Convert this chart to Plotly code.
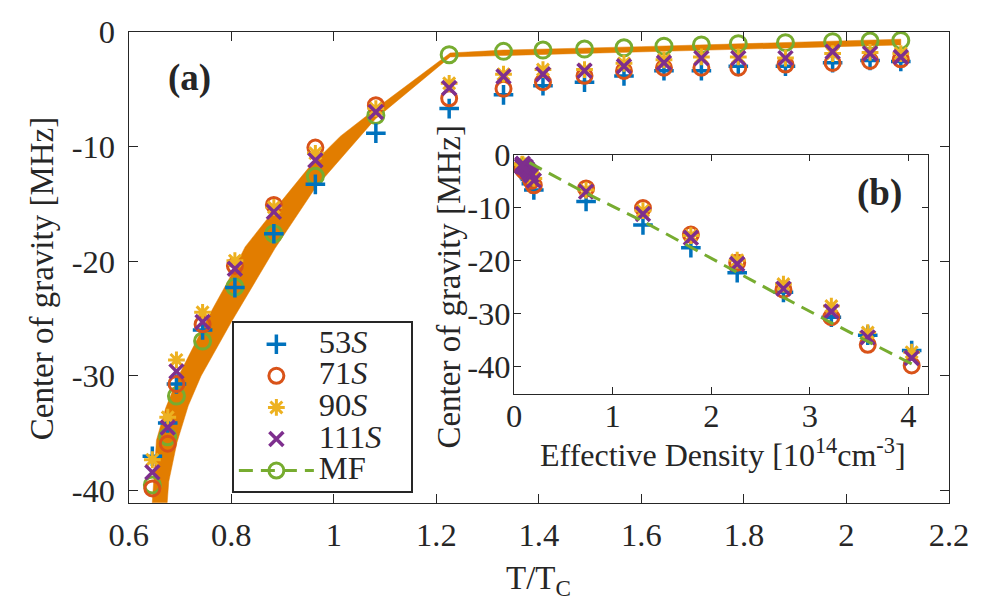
import plotly.graph_objects as go

# ---------------- data ----------------
T = [0.646, 0.676, 0.693, 0.744, 0.807, 0.883, 0.964, 1.082, 1.225, 1.331,
     1.408, 1.489, 1.566, 1.644, 1.717, 1.789, 1.881, 1.973, 2.046, 2.106]
density = [4.033, 3.587, 3.218, 2.732, 2.263, 1.793, 1.307, 0.73, 0.20, 0.175,
           0.164, 0.154, 0.143, 0.129, 0.118, 0.106, 0.097, 0.089, 0.083, 0.078]

s53 = [-37.0, -34.1, -30.7, -26.0, -22.3, -17.6, -13.3, -8.85, -6.7, -5.5,
       -4.7, -4.4, -3.85, -3.4, -3.4, -3.0, -3.0, -2.7, -2.5, -2.6]
s71 = [-39.8, -35.9, -30.7, -25.5, -20.4, -15.1, -10.1, -6.4, -5.8, -4.96,
       -4.4, -3.84, -3.42, -3.14, -3.14, -3.14, -2.86, -2.72, -2.55, -2.4]
s90 = [-37.3, -33.6, -28.6, -24.45, -19.95, -15.3, -10.6, -6.7, -4.5, -3.7,
       -3.3, -3.3, -2.75, -2.45, -2.2, -2.2, -2.3, -1.9, -1.8, -1.9]
s111 = [-38.4, -34.5, -29.6, -25.3, -20.65, -15.7, -11.2, -7.0, -4.9, -3.9,
        -3.7, -3.4, -3.0, -2.7, -2.3, -2.3, -2.3, -1.75, -1.9, -2.2]
mf = [-39.5, -35.3, -31.75, -26.96, -22.25, -17.6, -12.6, -7.3, -2.0, -1.71,
      -1.60, -1.51, -1.40, -1.26, -1.15, -1.04, -0.95, -0.87, -0.81, -0.76]

# orange band (family of curves) – upper edge (left->right) and lower edge (right->left)
band_top_T = [0.645, 0.654, 0.672, 0.697, 0.729, 0.760, 0.794, 0.827, 0.888,
              0.950, 1.013, 1.088, 1.227, 1.331, 1.600, 2.106]
band_top_v = [-41.6, -35.6, -32.8, -30.0, -27.2, -24.45, -21.7, -18.75, -15.3,
              -11.9, -9.1, -6.5, -1.85, -1.6, -1.3, -0.65]
band_bot_T = [2.106, 1.600, 1.331, 1.227, 1.081, 0.964, 0.885, 0.800, 0.741,
              0.716, 0.694, 0.678, 0.674]
band_bot_v = [-1.15, -1.75, -2.05, -2.2, -7.6, -13.6, -18.9, -25.3, -30.0,
              -32.6, -35.8, -39.2, -41.6]

x_ticks = [0.6, 0.8, 1.0, 1.2, 1.4, 1.6, 1.8, 2.0, 2.2]
x_ticktext = ["0.6", "0.8", "1", "1.2", "1.4", "1.6", "1.8", "2", "2.2"]
y_ticks = [-40, -30, -20, -10, 0]
y_ticktext = ["-40", "-30", "-20", "-10", "0"]
ix_ticks = [0, 1, 2, 3, 4]
ix_ticktext = ["0", "1", "2", "3", "4"]

series_names = ["53<i>S</i>", "71<i>S</i>", "90<i>S</i>", "111<i>S</i>"]
series_vals = [s53, s71, s90, s111]
series_colors = ["#0072BD", "#D95319", "#EDB120", "#7E2F8E"]
series_symbols = ["cross-thin-open", "circle-open", "asterisk-open", "x-thin-open"]
series_sizes = [14, 15, 14, 14]
series_lw = [3.5, 3, 3, 3.5]
mf_color = "#77AC30"
band_color = "#E27D00"

FONT = "Liberation Serif, Times New Roman, Times, serif"
AX = "#262626"
FS = 32.5

fig = go.Figure()

# band
fig.add_trace(go.Scatter(
    x=band_top_T + band_bot_T, y=band_top_v + band_bot_v,
    mode="lines", fill="toself", fillcolor=band_color,
    line=dict(color=band_color, width=0.5), showlegend=False, hoverinfo="skip",
    xaxis="x", yaxis="y"))

# MF markers in main
fig.add_trace(go.Scatter(
    x=T, y=mf, mode="markers", showlegend=False,
    marker=dict(symbol="circle-open", size=16, color=mf_color,
                line=dict(color=mf_color, width=3)),
    xaxis="x", yaxis="y"))

def lname(n):
    return '<span style="font-size:%spx">%s&nbsp;&nbsp;&nbsp;</span>' % (FS, n)

for name, vals, col, sym, sz, lw in zip(series_names, series_vals, series_colors,
                                        series_symbols, series_sizes, series_lw):
    fig.add_trace(go.Scatter(
        x=T, y=vals, mode="markers", name=lname(name),
        marker=dict(symbol=sym, size=sz, color=col, line=dict(color=col, width=lw)),
        xaxis="x", yaxis="y"))

# legend-only MF entry
fig.add_trace(go.Scatter(
    x=[None], y=[None], mode="lines+markers", name=lname("MF"),
    line=dict(color=mf_color, width=3, dash="14px,8px"),
    marker=dict(symbol="circle-open", size=15, color=mf_color,
                line=dict(color=mf_color, width=3)),
    xaxis="x", yaxis="y"))

# inset
for name, vals, col, sym, sz, lw in zip(series_names, series_vals, series_colors,
                                        series_symbols, series_sizes, series_lw):
    fig.add_trace(go.Scatter(
        x=density, y=vals, mode="markers", showlegend=False,
        marker=dict(symbol=sym, size=sz, color=col, line=dict(color=col, width=lw)),
        xaxis="x2", yaxis="y2"))
fig.add_trace(go.Scatter(
    x=density, y=mf, mode="lines", showlegend=False,
    line=dict(color=mf_color, width=3, dash="14px,8px"),
    xaxis="x2", yaxis="y2"))

axis_common = dict(showgrid=False, zeroline=False, showline=True, linecolor=AX,
                   linewidth=1.3, ticks="inside", tickcolor=AX, tickwidth=1.3,
                   mirror="ticks", tickfont=dict(family=FONT, size=FS, color=AX))

fig.update_layout(
    width=1000, height=602, margin=dict(l=0, r=0, t=0, b=0),
    paper_bgcolor="white", plot_bgcolor="white",
    xaxis=dict(domain=[0.1133, 0.9677], range=[0.6, 2.2], tickvals=x_ticks,
               ticktext=x_ticktext, ticklen=9, ticklabelstandoff=3, anchor="y",
               **axis_common),
    yaxis=dict(domain=[0.16113, 0.97625], range=[-41.06, 0], tickvals=y_ticks,
               ticktext=y_ticktext, ticklen=9, ticklabelstandoff=6, anchor="x",
               **axis_common),
    xaxis2=dict(domain=[0.5147, 0.946], range=[0, 4.2], tickvals=ix_ticks,
                ticktext=ix_ticktext, ticklen=6.5, ticklabelstandoff=-7, anchor="y2",
                **axis_common),
    yaxis2=dict(domain=[0.34934, 0.76379], range=[-45.2, 0], tickvals=y_ticks,
                ticktext=y_ticktext, ticklen=6.5, ticklabelstandoff=-4, anchor="x2",
                **axis_common),
    legend=dict(x=0.2207, y=1 - 316 / 602, xanchor="left", yanchor="top",
                bgcolor="white", bordercolor=AX, borderwidth=2,
                font=dict(family=FONT, size=22, color=AX),
                itemwidth=75, tracegroupgap=0, traceorder="normal"),
    font=dict(family=FONT, color=AX),
)

ann = [
    dict(text="Center of gravity [MHz]", x=23.3 / 1000, y=1 - 271.7 / 602,
         textangle=-90, font=dict(size=33)),
    dict(text="Center of gravity [MHz]", x=446.6 / 1000, y=1 - 280 / 602,
         textangle=-90, font=dict(size=33)),
    dict(text="T/T<sub>C</sub>", x=540 / 1000, y=1 - 586 / 602, font=dict(size=33)),
    dict(text="Effective Density [10<sup>14</sup>cm<sup>-3</sup>]", x=732.5 / 1000,
         y=1 - 453 / 602, font=dict(size=32)),
    dict(text="<b>(a)</b>", x=176.7 / 1000, y=1 - 63 / 602, font=dict(size=37)),
    dict(text="<b>(b)</b>", x=895.8 / 1000, y=1 - 182 / 602, font=dict(size=37)),
]
for a in ann:
    a.update(xref="paper", yref="paper", showarrow=False, xanchor="center",
             yanchor="middle")
    a["font"].update(family=FONT, color=AX)
fig.update_layout(annotations=ann)

fig.write_html("out.html",
               post_script="document.body.style.margin='0';document.body.style.padding='0';")
